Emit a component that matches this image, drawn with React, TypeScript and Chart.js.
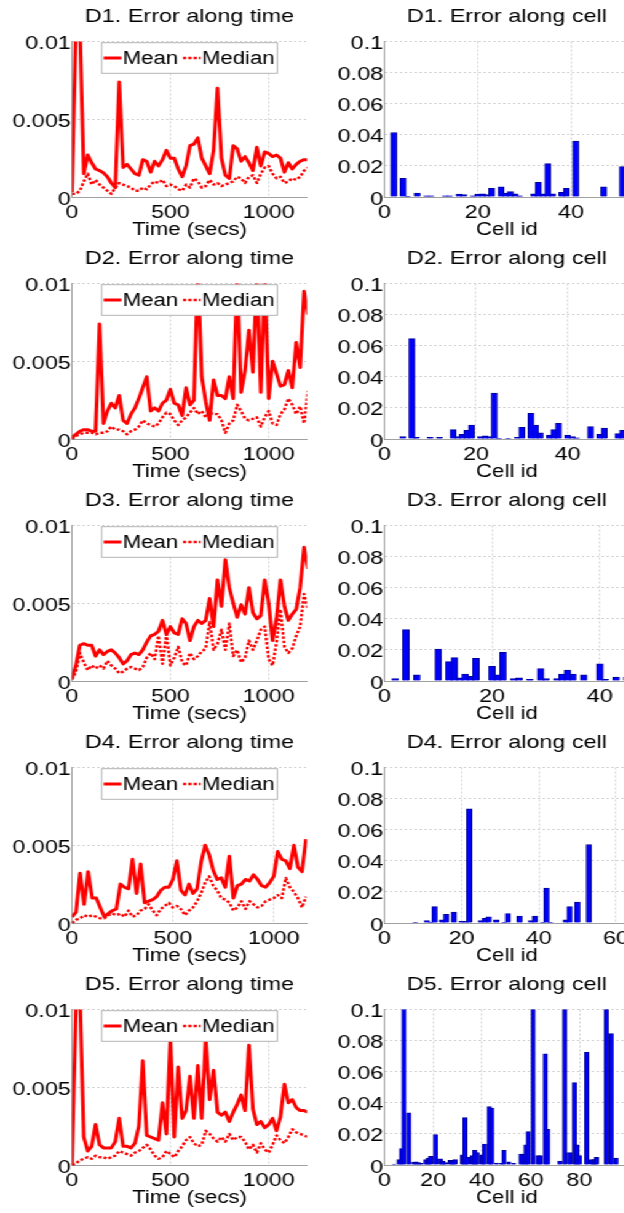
import React, { useEffect, useRef } from 'react';
import { Chart, registerables } from 'chart.js';

Chart.register(...registerables);

// ---------- data ----------
const TIME = [
  0, 20, 40, 60, 80, 100, 120, 140, 160, 180,
  200, 220, 240, 260, 280, 300, 320, 340, 360, 380,
  400, 420, 440, 460, 480, 500, 520, 540, 560, 580,
  600, 620, 640, 660, 680, 700, 720, 740, 760, 780,
  800, 820, 840, 860, 880, 900, 920, 940, 960, 980,
  1000, 1020, 1040, 1060, 1080, 1100, 1120, 1140, 1160, 1180,
  1200,
];

const D1_MEAN = [
  0.0003, 0.011, 0.011, 0.0015, 0.0027, 0.0022, 0.0018, 0.0017, 0.00155, 0.0013,
  0.0009, 0.0006, 0.0074, 0.0019, 0.0021, 0.0018, 0.0015, 0.0014, 0.0024, 0.0023,
  0.0016, 0.0023, 0.002, 0.0024, 0.003, 0.0025, 0.0025, 0.0018, 0.0013, 0.002,
  0.0033, 0.0034, 0.0038, 0.0025, 0.002, 0.0015, 0.003, 0.007, 0.0025, 0.0014,
  0.0012, 0.0033, 0.0031, 0.0023, 0.0026, 0.0022, 0.0017, 0.0032, 0.002, 0.0029,
  0.0028, 0.0026, 0.0027, 0.0025, 0.0016, 0.0022, 0.0018, 0.0021, 0.0023, 0.0024,
  0.0024,
];
const D1_MEDIAN = [
  0.0002, 0.0002, 0.0004, 0.001, 0.0015, 0.0008, 0.0011, 0.0008, 0.0006, 0.0004,
  0.0002, 0.0006, 0.0009, 0.0008, 0.0007, 0.0006, 0.0004, 0.0004, 0.0006, 0.0005,
  0.0008, 0.001, 0.0009, 0.0011, 0.0007, 0.0008, 0.0007, 0.0005, 0.0004, 0.0008,
  0.0006, 0.0012, 0.001, 0.0006, 0.0007, 0.0011, 0.0008, 0.0009, 0.0007, 0.0008,
  0.0009, 0.001, 0.0013, 0.0012, 0.0009, 0.0013, 0.0014, 0.0009, 0.0015, 0.0019,
  0.002, 0.0015, 0.0012, 0.0013, 0.0009, 0.001, 0.0012, 0.0011, 0.0013, 0.0017,
  0.0019,
];
const D2_MEAN = [
  0.0001, 0.0003, 0.0005, 0.0006, 0.0006, 0.0005, 0.0005, 0.0074, 0.001, 0.0018,
  0.0023, 0.002, 0.0028, 0.0012, 0.001, 0.0016, 0.002, 0.0026, 0.0033, 0.004,
  0.0018, 0.002, 0.0018, 0.0023, 0.0025, 0.0032, 0.0023, 0.0022, 0.0015, 0.0033,
  0.0022, 0.0025, 0.011, 0.004, 0.0024, 0.0012, 0.0038, 0.0028, 0.0028, 0.0026,
  0.004, 0.0026, 0.0105, 0.003, 0.0044, 0.007, 0.0043, 0.0105, 0.003, 0.0105,
  0.0026, 0.005, 0.0042, 0.0034, 0.0035, 0.0044, 0.0033, 0.0062, 0.0046, 0.0095,
  0.008,
];
const D2_MEDIAN = [
  0.0, 0.0002, 0.0003, 0.0004, 0.0004, 0.0004, 0.0003, 0.0004, 0.0004, 0.0005,
  0.0008, 0.0006, 0.0006, 0.0005, 0.0003, 0.0005, 0.0006, 0.0008, 0.0012, 0.001,
  0.0009, 0.0008, 0.001, 0.0014, 0.0017, 0.0016, 0.0012, 0.0009, 0.0012, 0.0014,
  0.0017, 0.002, 0.0016, 0.0018, 0.0014, 0.0017, 0.0016, 0.0016, 0.0012, 0.0004,
  0.001, 0.0012, 0.0022, 0.0018, 0.0013, 0.0012, 0.0013, 0.0014, 0.0008, 0.0014,
  0.0018, 0.001, 0.0009, 0.0016, 0.0019, 0.0026, 0.0022, 0.0016, 0.0021, 0.001,
  0.0031,
];
const D3_MEAN = [
  0.0002, 0.001, 0.0023, 0.0024, 0.0023, 0.0023, 0.0016, 0.002, 0.0017, 0.0019,
  0.002, 0.0018, 0.0015, 0.0011, 0.0013, 0.0017, 0.0018, 0.0017, 0.002, 0.0025,
  0.0029, 0.003, 0.0032, 0.0039, 0.003, 0.0035, 0.0031, 0.003, 0.004, 0.0037,
  0.0026, 0.0035, 0.0039, 0.0037, 0.0039, 0.0053, 0.0035, 0.0065, 0.0048, 0.0078,
  0.006, 0.005, 0.0041, 0.0049, 0.0043, 0.006, 0.0044, 0.004, 0.0042, 0.0065,
  0.005, 0.0026, 0.004, 0.0065, 0.0048, 0.0039, 0.0043, 0.0046, 0.006, 0.0086,
  0.0072,
];
const D3_MEDIAN = [
  0.0001, 0.0006, 0.0018, 0.0012, 0.0007, 0.001, 0.0008, 0.001, 0.0008, 0.0013,
  0.001, 0.0008, 0.0005, 0.0006, 0.0008, 0.0009, 0.0008, 0.0007, 0.0009, 0.0015,
  0.0018, 0.0014, 0.0029, 0.0011, 0.003, 0.001, 0.0015, 0.0022, 0.0012, 0.001,
  0.0018, 0.0014, 0.0016, 0.0019, 0.0021, 0.0038, 0.002, 0.0024, 0.0033, 0.002,
  0.0037, 0.0016, 0.002, 0.0012, 0.0015, 0.0026, 0.002, 0.0026, 0.0033, 0.0035,
  0.0014, 0.001, 0.0025, 0.0046, 0.0022, 0.0018, 0.0021, 0.0029, 0.0035, 0.0056,
  0.0046,
];
const D4_MEAN = [
  0.0004, 0.0007, 0.0032, 0.0012, 0.0033, 0.0016, 0.0016, 0.001, 0.0004, 0.0006,
  0.0008, 0.0009, 0.0025, 0.0023, 0.0022, 0.0041, 0.0019, 0.0038, 0.0013, 0.0014,
  0.0015, 0.0017, 0.0021, 0.0023, 0.0023, 0.0028, 0.004, 0.0021, 0.0018, 0.0025,
  0.0019, 0.0022, 0.0039, 0.005, 0.0044, 0.0034, 0.0028, 0.0029, 0.0023, 0.0043,
  0.0016, 0.0024, 0.0025, 0.0028, 0.0027, 0.0031, 0.0028, 0.0024, 0.0023, 0.0026,
  0.003, 0.0046, 0.0041, 0.004, 0.0035, 0.005, 0.0036, 0.0033, 0.0054,
];
const D4_MEDIAN = [
  0.0, 0.0002, 0.0003, 0.0005, 0.0004, 0.0005, 0.0004, 0.0003, 0.0003, 0.0005,
  0.0006, 0.0005, 0.0006, 0.0004, 0.0008, 0.0004, 0.0005, 0.0008, 0.0009, 0.0012,
  0.0008, 0.0005, 0.0009, 0.0011, 0.0013, 0.001, 0.0011, 0.0009, 0.0005, 0.0008,
  0.001, 0.0014, 0.0019, 0.0026, 0.003, 0.0024, 0.0021, 0.0016, 0.0015, 0.0013,
  0.0008, 0.001, 0.0014, 0.0009, 0.0014, 0.0012, 0.001, 0.0011, 0.0014, 0.0015,
  0.0016, 0.0018, 0.0016, 0.0029, 0.0023, 0.002, 0.0016, 0.001, 0.0017,
];
const D5_MEAN = [
  0.0, 0.0102, 0.011, 0.0018, 0.0009, 0.0012, 0.0026, 0.0013, 0.0011, 0.0011,
  0.0011, 0.0015, 0.003, 0.0012, 0.0012, 0.0011, 0.0014, 0.0025, 0.0067, 0.0019,
  0.0018, 0.0017, 0.0016, 0.004, 0.002, 0.0082, 0.0018, 0.0063, 0.003, 0.0035,
  0.0057, 0.003, 0.0064, 0.003, 0.0082, 0.0042, 0.0061, 0.0034, 0.0032, 0.0034,
  0.0028, 0.0034, 0.0039, 0.0045, 0.0035, 0.0077, 0.0036, 0.0026, 0.0028, 0.0024,
  0.0026, 0.003, 0.0022, 0.0031, 0.0052, 0.004, 0.0042, 0.0037, 0.0035, 0.0035,
  0.0034,
];
const D5_MEDIAN = [
  0.0, 0.0001, 0.0003, 0.0004, 0.0005, 0.0004, 0.0006, 0.0005, 0.0005, 0.0004,
  0.0005, 0.0006, 0.0009, 0.0008, 0.0007, 0.0006, 0.0008, 0.0009, 0.0011, 0.0013,
  0.001, 0.0006, 0.0004, 0.0005, 0.0009, 0.0007, 0.0005, 0.0009, 0.0012, 0.0016,
  0.0018, 0.0014, 0.0012, 0.0013, 0.0022, 0.002, 0.0017, 0.0015, 0.0018, 0.0015,
  0.002, 0.0016, 0.0018, 0.0018, 0.0015, 0.001, 0.0013, 0.0008, 0.0014, 0.001,
  0.0008, 0.0013, 0.0019, 0.0016, 0.0014, 0.0018, 0.0023, 0.0021, 0.002, 0.0019,
  0.0018,
];

const D1_CELLS = [2, 4, 5, 7, 9, 10, 13, 14, 16, 17, 19, 20, 21, 22, 23, 25, 26, 27, 28, 29, 32, 33, 34, 35, 36, 38, 39, 41, 47, 51];
const D1_ERR = [0.0415, 0.012, 0.0005, 0.0025, 0.0008, 0.0008, 0.0008, 0.0008, 0.0018, 0.0015, 0.0008, 0.0018, 0.002, 0.0015, 0.0055, 0.0065, 0.0025, 0.0035, 0.002, 0.0008, 0.002, 0.0095, 0.002, 0.0215, 0.002, 0.003, 0.0055, 0.036, 0.0065, 0.0195];
const D2_CELLS = [4, 6, 7, 10, 12, 15, 16, 17, 18, 19, 21, 22, 23, 24, 25, 27, 29, 30, 32, 33, 34, 36, 37, 38, 40, 41, 42, 45, 47, 48, 51, 52];
const D2_ERR = [0.0015, 0.0645, 0.001, 0.001, 0.001, 0.006, 0.0015, 0.003, 0.0055, 0.009, 0.0015, 0.002, 0.0015, 0.0295, 0.0005, 0.0005, 0.001, 0.0075, 0.0165, 0.009, 0.004, 0.0025, 0.006, 0.01, 0.0025, 0.0015, 0.0008, 0.008, 0.003, 0.007, 0.0035, 0.0055];
const D3_CELLS = [2, 4, 6, 10, 12, 13, 14, 15, 16, 17, 20, 21, 22, 24, 25, 27, 29, 30, 32, 33, 34, 35, 37, 40, 41, 43, 45];
const D3_ERR = [0.0015, 0.033, 0.004, 0.0205, 0.0125, 0.015, 0.002, 0.0045, 0.003, 0.0145, 0.0095, 0.004, 0.0185, 0.0015, 0.002, 0.001, 0.008, 0.0015, 0.0015, 0.0045, 0.007, 0.0045, 0.004, 0.011, 0.001, 0.0025, 0.0025];
const D4_CELLS = [8, 11, 12, 13, 15, 16, 18, 20, 21, 22, 25, 26, 27, 29, 31, 32, 35, 38, 39, 41, 42, 43, 47, 48, 50, 53];
const D4_ERR = [0.0005, 0.0015, 0.0005, 0.0105, 0.002, 0.0055, 0.007, 0.001, 0.001, 0.0735, 0.0015, 0.003, 0.004, 0.002, 0.0005, 0.006, 0.0045, 0.0015, 0.0045, 0.0005, 0.0225, 0.0005, 0.002, 0.0105, 0.0135, 0.0505];
const D5_CELLS = [4, 6, 7, 8, 10, 12, 13, 14, 15, 17, 18, 19, 21, 23, 24, 25, 27, 28, 29, 32, 33, 34, 36, 37, 38, 40, 41, 43, 44, 46, 48, 49, 51, 53, 56, 57, 58, 59, 61, 63, 64, 66, 67, 72, 74, 76, 78, 79, 80, 83, 85, 86, 87, 91, 93, 95];
const D5_ERR = [0.0006, 0.0035, 0.0105, 0.11, 0.0335, 0.0018, 0.002, 0.0015, 0.001, 0.0035, 0.0045, 0.0055, 0.0195, 0.004, 0.0025, 0.0015, 0.003, 0.0025, 0.0035, 0.0065, 0.0305, 0.005, 0.006, 0.0095, 0.008, 0.0065, 0.0135, 0.0375, 0.0365, 0.0012, 0.001, 0.0095, 0.002, 0.001, 0.007, 0.007, 0.013, 0.0215, 0.11, 0.006, 0.006, 0.0715, 0.023, 0.0025, 0.11, 0.008, 0.053, 0.013, 0.006, 0.0725, 0.0035, 0.0035, 0.005, 0.11, 0.0845, 0.0045];

const TIME_TITLES = ['D1. Error along time', 'D2. Error along time', 'D3. Error along time', 'D4. Error along time', 'D5. Error along time'];
const CELL_TITLES = ['D1. Error along cell', 'D2. Error along cell', 'D3. Error along cell', 'D4. Error along cell', 'D5. Error along cell'];
const SERIES_LABELS = ['Mean', 'Median'];
const TIME_AXIS_TITLE = 'Time (secs)';
const CELL_AXIS_TITLE = 'Cell id';

const TIME_TICKS = [0, 500, 1000];
const TIME_TICK_LABELS = ['0', '500', '1000'];
const TIME_Y_TICKS = [0, 0.005, 0.01];
const TIME_Y_LABELS = ['0', '0.005', '0.01'];
const CELL_Y_TICKS = [0, 0.02, 0.04, 0.06, 0.08, 0.1];
const CELL_Y_LABELS = ['0', '0.02', '0.04', '0.06', '0.08', '0.1'];
const CELL_TICKS = [[0, 20, 40], [0, 20, 40], [0, 20, 40], [0, 20, 40, 60], [0, 20, 40, 60, 80]];
const CELL_TICK_LABELS = [['0', '20', '40'], ['0', '20', '40'], ['0', '20', '40'], ['0', '20', '40', '60'], ['0', '20', '40', '60', '80']];

const TIME_MAX = [1195, 1195, 1195, 1165, 1195];
const CELL_MAX = [52.5, 53.5, 45.5, 63.5, 100.5];

const MEANS = [D1_MEAN, D2_MEAN, D3_MEAN, D4_MEAN, D5_MEAN];
const MEDIANS = [D1_MEDIAN, D2_MEDIAN, D3_MEDIAN, D4_MEDIAN, D5_MEDIAN];
const CELLS = [D1_CELLS, D2_CELLS, D3_CELLS, D4_CELLS, D5_CELLS];
const ERRS = [D1_ERR, D2_ERR, D3_ERR, D4_ERR, D5_ERR];

// ---------- layout / style ----------
const S = 1.23; // horizontal stretch of the whole figure
const FONT = "'Liberation Sans', Arial, Helvetica, sans-serif";
const FS = 19;
const FS_AXIS_TITLE = 18;
const FS_LEGEND = 18;
const ROW_H = 242;
const CANVAS_H = 250;
const TOP_AREA = 41.5;
const X_AXIS_H = 53;
const Y_AXIS_W = 72 / S;
const LEFT_W = 254;
const RIGHT_X = 312 / S;
const RIGHT_W = 270;
const LEFT_PAD_R = LEFT_W - 307 / S;
const RIGHT_PAD_R = RIGHT_W - (629 / S - RIGHT_X);
const PLOT_W_TARGET = 245;
const GRID = '#d2d2d2';
const AXIS = '#a0a0a0';
const RED = '#ff0000';

const boxLegend = {
  id: 'boxLegend',
  afterDatasetsDraw(chart: any, _args: any, opts: any) {
    if (!opts || !opts.display) return;
    const { ctx, chartArea } = chart;
    const x0 = chartArea.left + opts.x;
    const y0 = chartArea.top + opts.y;
    ctx.save();
    ctx.setLineDash([]);
    ctx.fillStyle = '#ffffff';
    ctx.fillRect(x0, y0, opts.w, opts.h);
    ctx.strokeStyle = '#b4b4b4';
    ctx.lineWidth = 1;
    ctx.strokeRect(x0, y0, opts.w, opts.h);
    ctx.font = `${FS_LEGEND}px ${FONT}`;
    const cy = y0 + opts.h / 2;
    let x = x0 + opts.pad;
    chart.data.datasets.forEach((ds: any) => {
      ctx.strokeStyle = ds.borderColor;
      ctx.lineWidth = ds.borderWidth;
      ctx.setLineDash(ds.borderDash || []);
      ctx.beginPath();
      ctx.moveTo(x, cy);
      ctx.lineTo(x + opts.sample, cy);
      ctx.stroke();
      ctx.setLineDash([]);
      x += opts.sample + opts.gap;
      ctx.fillStyle = '#000';
      ctx.textAlign = 'left';
      ctx.textBaseline = 'middle';
      ctx.fillText(ds.label, x, cy + opts.textDy);
      x += ctx.measureText(ds.label).width + opts.after;
    });
    ctx.restore();
  },
};

function xAxis(max: number, ticks: number[], labels: string[], title: string) {
  return {
    type: 'linear',
    min: 0,
    max,
    offset: false,
    afterBuildTicks: (sc: any) => {
      sc.ticks = ticks.map((v) => ({ value: v }));
    },
    afterFit: (sc: any) => {
      sc.height = X_AXIS_H;
      sc.paddingLeft = 0;
      sc.paddingRight = 0;
    },
    ticks: {
      autoSkip: false,
      maxRotation: 0,
      minRotation: 0,
      padding: 4.4,
      color: '#000',
      font: { family: FONT, size: FS },
      callback: (_v: any, i: number) => labels[i],
    },
    grid: { drawTicks: false, color: GRID, lineWidth: 1, offset: false },
    border: { display: true, color: AXIS, width: 1, dash: [2, 2] },
    title: {
      display: true,
      text: title,
      color: '#000',
      font: { family: FONT, size: FS_AXIS_TITLE },
      padding: { top: 0, bottom: 9.5 },
    },
  };
}

function yAxis(max: number, ticks: number[], labels: string[]) {
  return {
    type: 'linear',
    min: 0,
    max,
    afterBuildTicks: (sc: any) => {
      sc.ticks = ticks.map((v) => ({ value: v }));
    },
    afterFit: (sc: any) => {
      sc.width = Y_AXIS_W;
      sc.paddingTop = 0;
      sc.paddingBottom = 0;
    },
    ticks: {
      padding: 1,
      labelOffset: 2.3,
      color: '#000',
      font: { family: FONT, size: FS },
      callback: (_v: any, i: number) => labels[i],
    },
    grid: { drawTicks: false, color: GRID, lineWidth: 1 },
    border: { display: true, color: AXIS, width: 1, dash: [2, 2] },
  };
}

function titleOpts(text: string) {
  return {
    display: true,
    text,
    fullSize: false,
    color: '#000',
    font: { family: FONT, size: FS, weight: 'normal' },
    padding: { top: 5.5, bottom: TOP_AREA - FS * 1.2 - 5.5 },
  };
}

function timeConfig(i: number) {
  const mean = MEANS[i];
  const med = MEDIANS[i];
  return {
    type: 'line',
    data: {
      datasets: [
        {
          label: SERIES_LABELS[0],
          data: mean.map((v, k) => ({ x: TIME[k], y: v })),
          borderColor: RED,
          borderWidth: 3,
          borderJoinStyle: 'round',
          pointRadius: 0,
          tension: 0,
          fill: false,
          clip: { left: 0, right: 0, top: 0, bottom: 3 },
        },
        {
          label: SERIES_LABELS[1],
          data: med.map((v, k) => ({ x: TIME[k], y: v })),
          borderColor: RED,
          borderWidth: 2.4,
          borderDash: [2.5, 1.8],
          borderJoinStyle: 'round',
          pointRadius: 0,
          tension: 0,
          fill: false,
          clip: { left: 0, right: 0, top: 0, bottom: 3 },
        },
      ],
    },
    options: {
      animation: false,
      responsive: false,
      devicePixelRatio: 1,
      events: [],
      layout: { padding: { left: 0, right: LEFT_PAD_R, top: 0, bottom: 0 } },
      scales: {
        x: xAxis(TIME_MAX[i], TIME_TICKS, TIME_TICK_LABELS, TIME_AXIS_TITLE),
        y: yAxis(0.01, TIME_Y_TICKS, TIME_Y_LABELS),
      },
      plugins: {
        legend: { display: false },
        tooltip: { enabled: false },
        title: titleOpts(TIME_TITLES[i]),
        boxLegend: {
          display: true,
          x: (101.7 - 72) / S,
          y: 1.2,
          w: 175.6 / S,
          h: 30.6,
          pad: 2 / S,
          sample: 17.7 / S,
          gap: 1.3 / S,
          after: 5 / S,
          textDy: 1.5,
        },
      },
    },
    plugins: [boxLegend],
  };
}

function cellConfig(i: number) {
  const max = CELL_MAX[i];
  const ppu = PLOT_W_TARGET / max;
  const thickness = (0.81 * ppu + 2.3) / S;
  return {
    type: 'bar',
    data: {
      datasets: [
        {
          label: 'Error',
          data: CELLS[i].map((c, k) => ({ x: c, y: ERRS[i][k] })),
          backgroundColor: '#0000ff',
          borderColor: '#000096',
          borderWidth: 1,
          barThickness: thickness,
          clip: 0,
        },
      ],
    },
    options: {
      animation: false,
      responsive: false,
      devicePixelRatio: 1,
      events: [],
      layout: { padding: { left: 0, right: RIGHT_PAD_R, top: 0, bottom: 0 } },
      scales: {
        x: { ...xAxis(max, CELL_TICKS[i], CELL_TICK_LABELS[i], CELL_AXIS_TITLE), grid: { drawTicks: false, color: GRID, lineWidth: 1, offset: false } },
        y: yAxis(0.1, CELL_Y_TICKS, CELL_Y_LABELS),
      },
      plugins: {
        legend: { display: false },
        tooltip: { enabled: false },
        title: titleOpts(CELL_TITLES[i]),
      },
    },
  };
}

function ChartCanvas({ make, left, top, width, height }: { make: () => any; left: number; top: number; width: number; height: number }) {
  const ref = useRef<HTMLCanvasElement>(null);
  useEffect(() => {
    const chart = new Chart(ref.current as HTMLCanvasElement, make());
    return () => chart.destroy();
  }, []);
  return (
    <canvas
      ref={ref}
      width={width}
      height={height}
      style={{ position: 'absolute', left, top, width, height }}
    />
  );
}

export default function App() {
  const rows = [0, 1, 2, 3, 4];
  return (
    <div style={{ position: 'absolute', left: 0, top: 0, width: 624, height: 1213, overflow: 'hidden', background: '#fff' }}>
      <div style={{ position: 'absolute', left: 0, top: 0, width: 624 / S, height: 1213, transform: `scaleX(${S})`, transformOrigin: '0 0' }}>
        {rows.map((i) => (
          <React.Fragment key={i}>
            <ChartCanvas make={() => timeConfig(i)} left={0} top={ROW_H * i} width={LEFT_W} height={CANVAS_H} />
            <ChartCanvas make={() => cellConfig(i)} left={RIGHT_X} top={ROW_H * i} width={RIGHT_W} height={CANVAS_H} />
          </React.Fragment>
        ))}
      </div>
    </div>
  );
}
